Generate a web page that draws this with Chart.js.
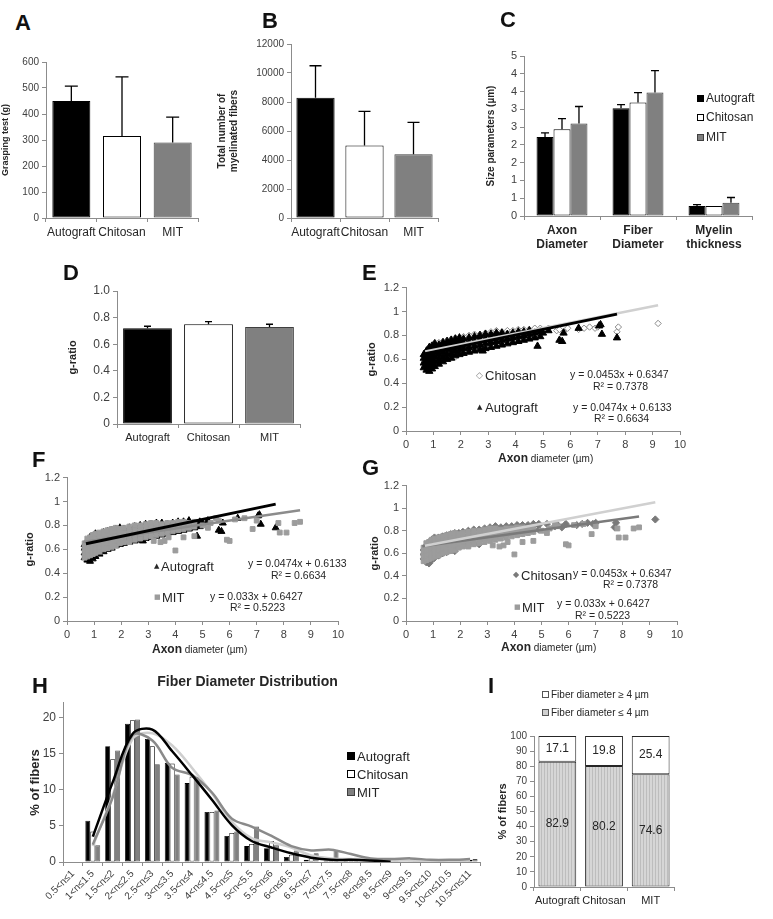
<!DOCTYPE html>
<html>
<head>
<meta charset="utf-8">
<script src="https://cdn.jsdelivr.net/npm/chart.js@4.4.1/dist/chart.umd.min.js"></script>
<style>
  html, body { margin: 0; padding: 0; background: #fff; }
  #fig { position: relative; width: 773px; height: 919px; overflow: hidden; background: #fff;
         font-family: "Liberation Sans", Arial, sans-serif; color: #262626; }
  #fig canvas { position: absolute; }
  .txt { position: absolute; white-space: nowrap; line-height: 1; }
  .panel { font-weight: bold; font-size: 22px; color: #111; }
  .row { position: absolute; white-space: nowrap; display: flex; align-items: center; }
  .sw { display: inline-block; box-sizing: border-box; margin-right: 2px; }
</style>
</head>
<body>
<div id="fig"></div>
<script>
// ---------- data ----------
const groups = ['Autograft', 'Chitosan', 'MIT'];

const graspValues = [450, 315, 290];
const graspErrors = [57, 228, 98];

const fiberTotals = [8300, 5000, 4400];
const fiberTotalErrors = [2200, 2350, 2200];

const sizeParams = [['Axon', 'Diameter'], ['Fiber', 'Diameter'], ['Myelin', 'thickness']];
const autograftSize = [2.22, 3.03, 0.28];
const autograftSizeErr = [0.12, 0.10, 0.04];
const chitosanSize = [2.44, 3.19, 0.28];
const chitosanSizeErr = [0.30, 0.28, 0];
const mitSize = [2.60, 3.47, 0.37];
const mitSizeErr = [0.48, 0.62, 0.15];

const gRatio = [0.72, 0.75, 0.73];
const gRatioErr = [0.015, 0.02, 0.02];

// g-ratio vs axon diameter clouds: [x, [y values]]
const autograftCloud = [
  [0.65, [0.53, 0.57, 0.61, 0.64]], [0.75, [0.51, 0.55, 0.59, 0.63, 0.67]],
  [0.85, [0.50, 0.54, 0.58, 0.62, 0.66, 0.70]], [0.95, [0.52, 0.56, 0.60, 0.64, 0.68, 0.71]],
  [1.05, [0.54, 0.58, 0.62, 0.66, 0.70, 0.73]], [1.2, [0.56, 0.60, 0.64, 0.68, 0.72]],
  [1.35, [0.58, 0.62, 0.66, 0.70, 0.74]], [1.5, [0.60, 0.64, 0.68, 0.72, 0.75]],
  [1.65, [0.61, 0.65, 0.69, 0.73, 0.76]], [1.8, [0.63, 0.67, 0.71, 0.75, 0.77]],
  [1.95, [0.64, 0.68, 0.72, 0.76, 0.78]], [2.1, [0.65, 0.69, 0.73, 0.77]],
  [2.3, [0.66, 0.70, 0.74, 0.78]], [2.5, [0.67, 0.71, 0.75, 0.79]],
  [2.7, [0.68, 0.72, 0.76, 0.80]], [2.9, [0.69, 0.73, 0.77, 0.81]],
  [3.1, [0.70, 0.74, 0.78, 0.81]], [3.3, [0.71, 0.75, 0.79, 0.82]],
  [3.5, [0.72, 0.76, 0.80, 0.82]], [3.7, [0.73, 0.77, 0.81]],
  [3.9, [0.74, 0.78, 0.82]], [4.1, [0.75, 0.79, 0.83]],
  [4.3, [0.76, 0.80, 0.83]], [4.5, [0.77, 0.81, 0.84]],
  [4.7, [0.78, 0.82]], [4.9, [0.79, 0.83]]
];
const autograftOutliers = [[5.0, 0.82], [5.2, 0.84], [5.6, 0.76], [5.7, 0.75], [5.75, 0.82], [6.3, 0.86],
  [7.05, 0.88], [7.1, 0.89], [7.15, 0.81], [7.7, 0.78], [4.8, 0.71], [2.8, 0.67]];

const chitosanCloud = [
  [0.65, [0.55, 0.59, 0.63]], [0.75, [0.52, 0.56, 0.60, 0.64, 0.67]],
  [0.85, [0.51, 0.55, 0.59, 0.63, 0.67, 0.70]], [0.95, [0.54, 0.58, 0.62, 0.66, 0.70, 0.72]],
  [1.05, [0.56, 0.60, 0.64, 0.68, 0.72, 0.74]], [1.2, [0.58, 0.62, 0.66, 0.70, 0.74]],
  [1.35, [0.60, 0.64, 0.68, 0.72, 0.75]], [1.5, [0.61, 0.65, 0.69, 0.73, 0.76]],
  [1.65, [0.63, 0.67, 0.71, 0.75, 0.77]], [1.8, [0.62, 0.66, 0.70, 0.74, 0.78]],
  [1.95, [0.66, 0.70, 0.74, 0.78]], [2.1, [0.67, 0.71, 0.75, 0.79]],
  [2.3, [0.68, 0.72, 0.76, 0.80]], [2.5, [0.69, 0.73, 0.77, 0.81]],
  [2.7, [0.68, 0.74, 0.78, 0.81]], [2.9, [0.72, 0.76, 0.80, 0.82]],
  [3.1, [0.73, 0.77, 0.81, 0.83]], [3.3, [0.74, 0.78, 0.82, 0.84]],
  [3.5, [0.75, 0.79, 0.83]], [3.7, [0.76, 0.80, 0.84]],
  [3.9, [0.77, 0.81, 0.84]], [4.1, [0.78, 0.82, 0.85]],
  [4.3, [0.78, 0.82, 0.85]], [4.5, [0.79, 0.83, 0.85]],
  [4.7, [0.80, 0.84, 0.86]], [4.9, [0.81, 0.85, 0.86]]
];
const chitosanOutliers = [[5.2, 0.86], [5.5, 0.84], [5.6, 0.85], [5.75, 0.83], [5.9, 0.86], [6.3, 0.85],
  [6.5, 0.86], [6.7, 0.87], [6.9, 0.86], [7.0, 0.87], [7.7, 0.83], [7.75, 0.87], [9.2, 0.90]];

const mitCloud = [
  [0.65, [0.53, 0.57, 0.61, 0.65]], [0.75, [0.54, 0.58, 0.62, 0.66, 0.69]],
  [0.85, [0.55, 0.59, 0.63, 0.67, 0.70]], [0.95, [0.56, 0.60, 0.64, 0.68, 0.72]],
  [1.05, [0.57, 0.61, 0.65, 0.69, 0.73]], [1.2, [0.58, 0.62, 0.66, 0.70, 0.74]],
  [1.35, [0.60, 0.64, 0.68, 0.72, 0.75]], [1.5, [0.61, 0.65, 0.69, 0.73, 0.76]],
  [1.65, [0.62, 0.66, 0.70, 0.74, 0.77]], [1.8, [0.63, 0.67, 0.71, 0.75, 0.78]],
  [1.95, [0.65, 0.69, 0.73, 0.77]], [2.1, [0.66, 0.70, 0.74, 0.78]],
  [2.3, [0.67, 0.71, 0.75, 0.79]], [2.5, [0.68, 0.72, 0.76, 0.80]],
  [2.7, [0.69, 0.73, 0.77, 0.80]], [2.9, [0.70, 0.74, 0.78, 0.81]],
  [3.1, [0.71, 0.75, 0.79, 0.82]], [3.3, [0.72, 0.76, 0.80, 0.82]],
  [3.5, [0.73, 0.77, 0.81]], [3.7, [0.74, 0.78, 0.82]],
  [3.9, [0.75, 0.79, 0.82]], [4.1, [0.76, 0.80, 0.83]],
  [4.3, [0.77, 0.81, 0.83]], [4.5, [0.78, 0.82]], [4.7, [0.79, 0.83]]
];
const mitOutliers = [[3.2, 0.67], [3.45, 0.66], [3.6, 0.67], [3.75, 0.70], [4.0, 0.59], [4.3, 0.70],
  [4.7, 0.71], [5.0, 0.80], [5.2, 0.78], [5.3, 0.82], [5.5, 0.86], [5.6, 0.84], [5.9, 0.68], [6.0, 0.67],
  [6.2, 0.85], [6.55, 0.86], [6.85, 0.77], [7.0, 0.84], [7.8, 0.82], [7.85, 0.74], [8.1, 0.74],
  [8.4, 0.82], [8.6, 0.83], [2.3, 0.66]];

// linear trend line end points
const chitosanFit = [[0.7, 0.666], [9.2, 1.052]];
const autograftFit = [[0.7, 0.646], [7.7, 0.978]];
const mitFit = [[0.6, 0.662], [8.6, 0.926]];

// fiber diameter distribution (% of fibers)
const diameterBins = ['0.5<n≤1', '1<n≤1.5', '1.5<n≤2', '2<n≤2.5', '2.5<n≤3', '3<n≤3.5', '3.5<n≤4',
  '4<n≤4.5', '4.5<n≤5', '5<n<5.5', '5.5<n≤6', '6<n≤6.5', '6.5<n≤7', '7<n≤7.5', '7.5<n≤8',
  '8<n≤8.5', '8.5<n≤9', '9<n≤9.5', '9.5<n≤10', '10<n≤10.5', '10.5<n≤11'];
const autograftDist = [0, 5.7, 16.0, 19.1, 17.0, 13.7, 10.9, 6.9, 3.6, 2.2, 1.9, 0.7, 0.3, 0.2, 0.4, 0.1, 0, 0, 0, 0, 0];
const chitosanDist = [0, 4.2, 14.2, 19.6, 16.0, 13.6, 11.8, 6.9, 4.0, 2.5, 2.9, 1.0, 0.5, 0.4, 0.5, 0.3, 0.1, 0.1, 0, 0, 0.3];
const mitDist = [0, 2.3, 15.4, 19.7, 13.5, 12.1, 11.7, 7.1, 4.2, 4.9, 2.3, 1.6, 1.2, 1.7, 0.6, 0.3, 0.4, 0.3, 0.2, 0.2, 0.4];
const autograftTrend = [null, 3.5, 11.0, 17.7, 18.3, 15.3, 12.0, 8.6, 5.1, 2.9, 2.0, 1.2, 0.6, 0.3, 0.3, 0.2, 0.05, null, null, null, null];
const chitosanTrend = [null, 2.2, 9.2, 17.0, 17.8, 16.1, 13.0, 9.5, 5.6, 3.3, 2.7, 2.0, 0.9, 0.5, 0.4, 0.4, 0.2, 0.2, 0.1, 0.1, 0.2];
const mitTrend = [null, 2.4, 8.9, 17.5, 16.8, 13.0, 12.0, 9.6, 6.0, 4.9, 3.6, 2.2, 1.6, 1.7, 1.1, 0.5, 0.4, 0.5, 0.3, 0.3, 0.4];

// fiber size split (%)
const smallFibers = [82.9, 80.2, 74.6];
const largeFibers = [17.1, 19.8, 25.4];

// ---------- setup ----------
Chart.defaults.font.family = '"Liberation Sans", Arial, sans-serif';
Chart.defaults.color = '#404040';
Chart.defaults.animation = false;
Chart.defaults.events = [];
Chart.defaults.responsive = false;
Chart.defaults.plugins.legend.display = false;
Chart.defaults.plugins.tooltip.enabled = false;

const AXIS = '#8c8c8c';
const fig = document.getElementById('fig');

function mount(box) {
  const c = document.createElement('canvas');
  c.width = box.w;
  c.height = box.h;
  c.style.left = box.x + 'px';
  c.style.top = box.y + 'px';
  fig.appendChild(c);
  return c;
}

function pad(box, area) {
  return { top: area.t - box.y, right: box.x + box.w - area.r, left: 0, bottom: 0 };
}

function yTitle(text, size, padTop) {
  return { display: true, text, color: '#262626', font: { size, weight: 'bold' }, padding: { top: padTop, bottom: 0 } };
}

function yAxis(width, max, step, fontSize, fmt, title) {
  return {
    min: 0, max,
    grid: { drawOnChartArea: false, drawTicks: true, tickLength: 4, color: AXIS },
    border: { color: AXIS },
    ticks: { stepSize: step, font: { size: fontSize }, color: '#404040', padding: 3, callback: fmt },
    title,
    afterFit: s => { s.width = width; }
  };
}

function xCategory(height, font) {
  return {
    grid: { drawOnChartArea: false, drawTicks: true, tickLength: 4, color: AXIS, offset: true },
    border: { color: AXIS },
    ticks: { font, color: '#262626', padding: 3, autoSkip: false, maxRotation: 0 },
    afterFit: s => { s.height = height; }
  };
}

// upward error bars with a cap
const errorBars = {
  id: 'errorBars',
  afterDatasetsDraw(chart, args, opts) {
    const ctx = chart.ctx;
    const yScale = chart.scales.y;
    chart.data.datasets.forEach((ds, di) => {
      if (!ds.errors) return;
      chart.getDatasetMeta(di).data.forEach((bar, i) => {
        const e = ds.errors[i];
        if (!e) return;
        const top = yScale.getPixelForValue(ds.data[i] + e);
        ctx.save();
        ctx.strokeStyle = '#000';
        ctx.lineWidth = 1.3;
        ctx.beginPath();
        ctx.moveTo(bar.x, bar.y);
        ctx.lineTo(bar.x, top);
        ctx.moveTo(bar.x - opts.cap / 2, top);
        ctx.lineTo(bar.x + opts.cap / 2, top);
        ctx.stroke();
        ctx.restore();
      });
    });
  }
};

// value labels in the middle of stacked segments
const segmentLabels = {
  id: 'segmentLabels',
  afterDatasetsDraw(chart) {
    const ctx = chart.ctx;
    ctx.save();
    ctx.font = '12px "Liberation Sans", Arial, sans-serif';
    ctx.fillStyle = '#262626';
    ctx.textAlign = 'center';
    ctx.textBaseline = 'middle';
    chart.data.datasets.forEach((ds, di) => {
      chart.getDatasetMeta(di).data.forEach((bar, i) => {
        ctx.fillText(ds.data[i].toFixed(1), bar.x, (bar.y + bar.base) / 2);
      });
    });
    ctx.restore();
  }
};

function simpleBars(box, area, values, errors, o) {
  return new Chart(mount(box), {
    type: 'bar',
    data: {
      labels: groups,
      datasets: [{
        data: values, errors,
        backgroundColor: ['#000', '#fff', '#808080'],
        borderColor: ['#000', '#000', '#3f3f3f'],
        borderWidth: 1, borderSkipped: false,
        barPercentage: o.bar, categoryPercentage: 1
      }]
    },
    options: {
      layout: { padding: pad(box, area) },
      plugins: { errorBars: { cap: o.cap } },
      scales: {
        x: xCategory(box.y + box.h - area.b, { size: o.catFont }),
        y: yAxis(area.l - box.x, o.max, o.step, o.tickFont, o.fmt, o.title)
      }
    },
    plugins: [errorBars]
  });
}

// ---------- A ----------
{
  const box = { x: 0, y: 40, w: 205, h: 205 }, area = { l: 46, t: 62, r: 198, b: 218 };
  simpleBars(box, area, graspValues, graspErrors, {
    bar: 0.75, cap: 13, catFont: 12, max: 600, step: 100, tickFont: 10,
    fmt: v => v, title: yTitle('Grasping test (g)', 9, 0)
  });
}

// ---------- B ----------
{
  const box = { x: 210, y: 30, w: 235, h: 215 }, area = { l: 291, t: 44, r: 438, b: 218 };
  simpleBars(box, area, fiberTotals, fiberTotalErrors, {
    bar: 0.78, cap: 12, catFont: 12, max: 12000, step: 2000, tickFont: 10,
    fmt: v => v, title: yTitle(['Total number of', 'myelinated fibers'], 10, 6)
  });
}

// ---------- C ----------
{
  const box = { x: 480, y: 40, w: 285, h: 225 }, area = { l: 524, t: 56, r: 752, b: 216 };
  const bar = { borderWidth: 1, borderSkipped: false, barPercentage: 1, categoryPercentage: 0.67 };
  new Chart(mount(box), {
    type: 'bar',
    data: {
      labels: sizeParams,
      datasets: [
        Object.assign({ label: 'Autograft', data: autograftSize, errors: autograftSizeErr, backgroundColor: '#000', borderColor: '#000' }, bar),
        Object.assign({ label: 'Chitosan', data: chitosanSize, errors: chitosanSizeErr, backgroundColor: '#fff', borderColor: '#000' }, bar),
        Object.assign({ label: 'MIT', data: mitSize, errors: mitSizeErr, backgroundColor: '#808080', borderColor: '#3f3f3f' }, bar)
      ]
    },
    options: {
      layout: { padding: pad(box, area) },
      plugins: { errorBars: { cap: 8 } },
      scales: {
        x: xCategory(box.y + box.h - area.b, { size: 12, weight: 'bold' }),
        y: yAxis(area.l - box.x, 4.5, 0.5, 11, v => Math.round(v), yTitle('Size parameters (µm)', 10, 5))
      }
    },
    plugins: [errorBars]
  });
}

// ---------- D ----------
{
  const box = { x: 60, y: 280, w: 250, h: 165 }, area = { l: 117, t: 291, r: 300, b: 424 };
  simpleBars(box, area, gRatio, gRatioErr, {
    bar: 0.8, cap: 7, catFont: 11, max: 1, step: 0.2, tickFont: 12,
    fmt: v => (v === 0 ? '0' : v.toFixed(1)), title: yTitle('g-ratio', 11, 6)
  });
}

// ---------- E, F, G scatter ----------
function cloudPoints(cloud, outliers) {
  const pts = [];
  cloud.forEach(([x, ys]) => ys.forEach(y => pts.push({ x, y })));
  outliers.forEach(([x, y]) => pts.push({ x, y }));
  return pts;
}
const fitPoints = f => f.map(([x, y]) => ({ x, y }));

const autograftPts = cloudPoints(autograftCloud, autograftOutliers);
const chitosanPts = cloudPoints(chitosanCloud, chitosanOutliers);
const mitPts = cloudPoints(mitCloud, mitOutliers);

function trend(points, color, width) {
  return { type: 'line', data: fitPoints(points), borderColor: color, borderWidth: width, pointRadius: 0, fill: false };
}
function cloud(points, style, radius, fill, stroke) {
  return { data: points, pointStyle: style, pointRadius: radius, backgroundColor: fill, borderColor: stroke, borderWidth: 1 };
}

function scatterPanel(box, area, datasets, titlePad) {
  return new Chart(mount(box), {
    type: 'scatter',
    data: { datasets },
    options: {
      layout: { padding: pad(box, area) },
      scales: {
        x: {
          type: 'linear', min: 0, max: 10,
          grid: { drawOnChartArea: false, drawTicks: true, tickLength: 4, color: AXIS },
          border: { color: AXIS },
          ticks: { stepSize: 1, font: { size: 11 }, color: '#404040', padding: 3 },
          afterFit: s => { s.height = box.y + box.h - area.b; }
        },
        y: yAxis(area.l - box.x, 1.2, 0.2, 11, v => String(Number(v.toFixed(1))), yTitle('g-ratio', 11, titlePad))
      }
    }
  });
}

scatterPanel({ x: 360, y: 278, w: 330, h: 178 }, { l: 406, t: 287, r: 680, b: 431 }, [
  trend(autograftFit, '#000', 3),
  trend(chitosanFit, '#d0d0d0', 2.5),
  cloud(autograftPts, 'triangle', 4.2, '#000', '#000'),
  cloud(chitosanPts, 'rectRot', 3.2, '#fff', '#8a8a8a')
], 5);

scatterPanel({ x: 15, y: 468, w: 335, h: 178 }, { l: 67, t: 477, r: 338, b: 621 }, [
  trend(autograftFit, '#000', 3),
  trend(mitFit, '#8c8c8c', 2.5),
  cloud(mitPts, 'rect', 3.4, '#9c9c9c', '#9c9c9c'),
  cloud(autograftPts, 'triangle', 4, '#000', '#000')
], 8);

scatterPanel({ x: 360, y: 476, w: 330, h: 172 }, { l: 406, t: 485, r: 677, b: 621 }, [
  trend(chitosanFit, '#d0d0d0', 2.5),
  trend(mitFit, '#7a7a7a', 2.5),
  cloud(mitPts, 'rect', 3.4, '#9c9c9c', '#9c9c9c'),
  cloud(chitosanPts, 'rectRot', 3.6, '#7a7a7a', '#7a7a7a')
], 8);

// ---------- H ----------
{
  const box = { x: 15, y: 672, w: 490, h: 247 }, area = { l: 63, t: 703, r: 480, b: 862 };
  const line = { type: 'line', borderWidth: 2.5, pointRadius: 0, tension: 0.35, order: 0, fill: false };
  const bar = { borderWidth: 0.8, borderSkipped: false, barPercentage: 1, categoryPercentage: 0.75, order: 1 };
  const y = yAxis(area.l - box.x, 22, 5, 12, v => v, yTitle('% of fibers', 13, 13));
  y.ticks.includeBounds = false;
  new Chart(mount(box), {
    type: 'bar',
    data: {
      labels: diameterBins,
      datasets: [
        Object.assign({ data: autograftTrend, borderColor: '#000' }, line),
        Object.assign({ data: mitTrend, borderColor: '#8a8a8a' }, line),
        Object.assign({ data: chitosanTrend, borderColor: '#cfcfcf' }, line),
        Object.assign({ label: 'Autograft', data: autograftDist, backgroundColor: '#000', borderColor: '#000' }, bar),
        Object.assign({ label: 'Chitosan', data: chitosanDist, backgroundColor: '#fff', borderColor: '#000' }, bar),
        Object.assign({ label: 'MIT', data: mitDist, backgroundColor: '#808080', borderColor: '#4d4d4d' }, bar)
      ]
    },
    options: {
      layout: { padding: { top: 0, right: box.x + box.w - area.r, left: 0, bottom: 0 } },
      plugins: {
        title: {
          display: true, text: 'Fiber Diameter Distribution', color: '#262626',
          font: { size: 14, weight: 'bold' }, padding: { top: 2, bottom: 12 }
        }
      },
      scales: {
        x: {
          grid: { drawOnChartArea: false, drawTicks: true, tickLength: 4, color: AXIS, offset: true },
          border: { color: AXIS },
          ticks: { font: { size: 10 }, color: '#404040', padding: 2, autoSkip: false, minRotation: 45, maxRotation: 45 },
          afterFit: s => { s.height = box.y + box.h - area.b; }
        },
        y
      }
    }
  });
}

// ---------- I ----------
function stripes() {
  const p = document.createElement('canvas');
  p.width = 3; p.height = 4;
  const g = p.getContext('2d');
  g.fillStyle = '#d6d6d6';
  g.fillRect(0, 0, 3, 4);
  g.fillStyle = '#bdbdbd';
  g.fillRect(0, 0, 1, 4);
  return g.createPattern(p, 'repeat');
}
{
  const box = { x: 490, y: 725, w: 195, h: 194 }, area = { l: 534, t: 736, r: 674, b: 887 };
  const bar = { borderWidth: 1, borderColor: '#262626', borderSkipped: false, barPercentage: 0.81, categoryPercentage: 1 };
  const x = xCategory(box.y + box.h - area.b, { size: 11 });
  x.stacked = true;
  const y = yAxis(area.l - box.x, 100, 10, 10, v => v, yTitle('% of fibers', 11, 6));
  y.stacked = true;
  new Chart(mount(box), {
    type: 'bar',
    data: {
      labels: groups,
      datasets: [
        Object.assign({ label: 'Fiber diameter ≤ 4 µm', data: smallFibers, backgroundColor: stripes() }, bar),
        Object.assign({ label: 'Fiber diameter ≥ 4 µm', data: largeFibers, backgroundColor: '#fff' }, bar)
      ]
    },
    options: { layout: { padding: pad(box, area) }, scales: { x, y } },
    plugins: [segmentLabels]
  });
}

// ---------- text overlays ----------
function txt(html, x, yc, size, extra) {
  const d = document.createElement('div');
  d.className = 'txt';
  d.innerHTML = html;
  d.style.left = x + 'px';
  d.style.top = (yc - size / 2) + 'px';
  d.style.fontSize = size + 'px';
  if (extra) Object.assign(d.style, extra);
  fig.appendChild(d);
  return d;
}
function panel(letter, x, y) {
  const d = document.createElement('div');
  d.className = 'txt panel';
  d.textContent = letter;
  d.style.left = x + 'px';
  d.style.top = y + 'px';
  fig.appendChild(d);
}
function legendRow(x, yc, size, swatch, label, sw) {
  const d = document.createElement('div');
  d.className = 'row';
  d.style.left = x + 'px';
  d.style.top = (yc - size / 2 - 1) + 'px';
  d.style.fontSize = size + 'px';
  d.style.height = (size + 2) + 'px';
  const s = document.createElement('span');
  s.className = 'sw';
  Object.assign(s.style, { width: sw + 'px', height: sw + 'px', background: swatch[0], border: '1px solid ' + swatch[1] });
  d.appendChild(s);
  d.appendChild(document.createTextNode(label));
  fig.appendChild(d);
}

panel('A', 15, 12);
panel('B', 262, 10);
panel('C', 500, 9);
panel('D', 63, 262);
panel('E', 362, 262);
panel('F', 32, 449);
panel('G', 362, 457);
panel('H', 32, 675);
panel('I', 488, 675);

const swatches = [['#000', '#000'], ['#fff', '#000'], ['#808080', '#3f3f3f']];
groups.forEach((g, i) => legendRow(697, [98, 117, 137][i], 12, swatches[i], g, 7));
groups.forEach((g, i) => legendRow(347, [756, 774, 792][i], 13, swatches[i], g, 8));
legendRow(542, 694, 10, ['#fff', '#555'], 'Fiber diameter ≥ 4 µm', 7);
legendRow(542, 712, 10, ['#d0d0d0', '#555'], 'Fiber diameter ≤ 4 µm', 7);

// E
txt('◇', 476, 375, 9, { color: '#888', fontFamily: 'DejaVu Sans' });
txt('Chitosan', 485, 375, 13);
txt('y = 0.0453x + 0.6347', 570, 374, 10.5);
txt('R² = 0.7378', 593, 386, 10.5);
txt('▲', 477, 407, 7, { fontFamily: 'DejaVu Sans' });
txt('Autograft', 485, 407, 13);
txt('y = 0.0474x + 0.6133', 573, 407, 10.5);
txt('R² = 0.6634', 594, 418, 10.5);
txt('<b style="font-size:12px">Axon</b> diameter (µm)', 498, 457, 10);
// F
txt('▲', 154, 566, 7, { fontFamily: 'DejaVu Sans' });
txt('Autograft', 161, 566, 13);
txt('y = 0.0474x + 0.6133', 248, 563, 10.5);
txt('R² = 0.6634', 271, 575, 10.5);
txt('■', 154, 597, 7, { color: '#9c9c9c', fontFamily: 'DejaVu Sans' });
txt('MIT', 162, 597, 13);
txt('y = 0.033x + 0.6427', 210, 596, 10.5);
txt('R² = 0.5223', 230, 607, 10.5);
txt('<b style="font-size:12px">Axon</b> diameter (µm)', 152, 648, 10);
// G
txt('◆', 513, 575, 8, { color: '#7a7a7a', fontFamily: 'DejaVu Sans' });
txt('Chitosan', 521, 575, 13);
txt('y = 0.0453x + 0.6347', 573, 573, 10.5);
txt('R² = 0.7378', 603, 584, 10.5);
txt('■', 514, 607, 7, { color: '#9c9c9c', fontFamily: 'DejaVu Sans' });
txt('MIT', 522, 607, 13);
txt('y = 0.033x + 0.6427', 557, 603, 10.5);
txt('R² = 0.5223', 575, 615, 10.5);
txt('<b style="font-size:12px">Axon</b> diameter (µm)', 501, 646, 10);
</script>
</body>
</html>
